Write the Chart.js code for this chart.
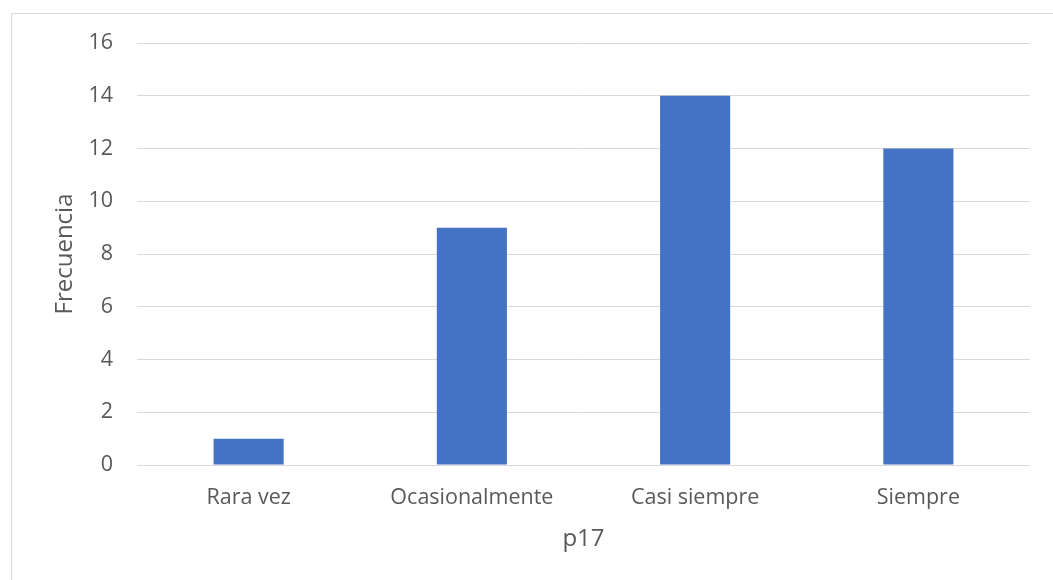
<!DOCTYPE html>
<html>
<head>
<meta charset="utf-8">
<script src="https://cdn.jsdelivr.net/npm/chart.js@4"></script>
<style>
  html, body { margin: 0; padding: 0; background: #fff; }
  #wrap { position: absolute; left: 0; top: 0; width: 1053px; height: 580px; }
  #frame { position: absolute; left: 11px; top: 13px; right: -5px; bottom: -5px;
           border-left: 1px solid #d9d9d9; border-top: 1px solid #d9d9d9; }
</style>
</head>
<body>
<div id="wrap">
  <div id="frame"></div>
  <canvas id="chart" width="1053" height="580"></canvas>
</div>
<script>
// Categories and values
const categories = ["Rara vez", "Ocasionalmente", "Casi siempre", "Siempre"]
const frecuencia = [1, 9, 14, 12]
const yTicks = [0, 2, 4, 6, 8, 10, 12, 14, 16]

const font = "'Open Sans', sans-serif"
const textColour = "#595959"

const ctx = document.getElementById("chart")

new Chart(ctx, {
  type: "bar",
  data: {
    labels: categories,
    datasets: [{
      label: "Frecuencia",
      data: frecuencia,
      backgroundColor: "#4472c4",
      barPercentage: 0.314,
      categoryPercentage: 1
    }]
  },
  options: {
    responsive: false,
    animation: false,
    layout: { padding: { left: 0, right: 23, top: 43, bottom: 0 } },
    plugins: {
      legend: { display: false },
      tooltip: { enabled: false }
    },
    scales: {
      x: {
        grid: { display: false, drawTicks: false },
        border: { display: false },
        ticks: { color: textColour, font: { family: font, size: 21.5 }, padding: 20 },
        title: { display: true, text: "p17", color: textColour,
                 font: { family: font, size: 24 }, padding: 26 },
        afterFit: (scale) => { scale.height = 115 }
      },
      y: {
        min: 0,
        max: 16,
        afterBuildTicks: (scale) => { scale.ticks = yTicks.map(v => ({ value: v })) },
        grid: { color: "#d9d9d9", lineWidth: 1, drawTicks: false },
        border: { display: false },
        ticks: { color: textColour, font: { family: font, size: 21.5 }, padding: 24 },
        title: { display: true, text: "Frecuencia", color: textColour,
                 font: { family: font, size: 24 }, padding: 51 },
        afterFit: (scale) => { scale.width = 137 }
      }
    }
  }
})
</script>
</body>
</html>
